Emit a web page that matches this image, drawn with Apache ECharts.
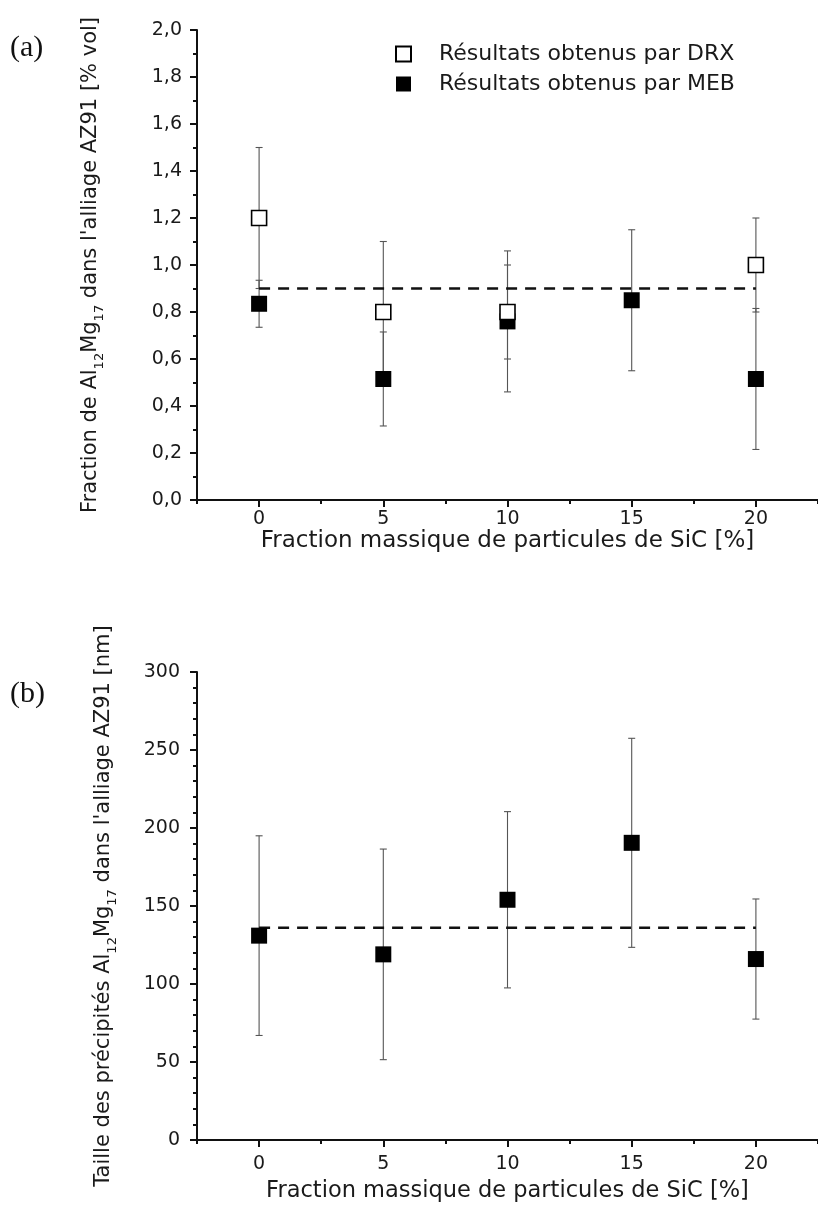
<!DOCTYPE html>
<html><head><meta charset="utf-8">
<script src="https://cdn.jsdelivr.net/npm/echarts@6/dist/echarts.min.js"></script>
<style>html,body{margin:0;padding:0;background:#fff}#c{width:818px;height:1219px}</style>
</head><body><div id="c"></div>
<script>
// ---- data ----
const xValues = [0, 5, 10, 15, 20];
const xMajorTicks = [0, 5, 10, 15, 20];
const drxFraction = [1.2, 0.8, 0.8, null, 1.0];
const drxError = [0.3, 0.3, 0.2, null, 0.2];
const mebFraction = [0.835, 0.515, 0.76, 0.85, 0.515];
const mebError = [0.1, 0.2, 0.3, 0.3, 0.3];
const meanFraction = 0.9;
const precipSize = [131, 119, 154, 190.5, 116];
const precipError = [64, 67.5, 56.5, 67, 38.5];
const meanSize = 136;
const seriesNames = ['Résultats obtenus par DRX', 'Résultats obtenus par MEB'];

// ---- helpers ----
const pts = (vals) => xValues.map((x, i) => [x, vals[i]]).filter(d => d[1] != null);
const errs = (vals, e) => xValues.map((x, i) => vals[i] == null ? null : [x, vals[i] - e[i], vals[i] + e[i]]).filter(d => d);
function errRender(params, api) {
  const x = api.value(0), lo = api.value(1), hi = api.value(2);
  const a = api.coord([x, hi]), b = api.coord([x, lo]);
  const hw = 3.5, st = { stroke: '#555', lineWidth: 1.1 };
  return { type: 'group', children: [
    { type: 'line', shape: { x1: a[0], y1: a[1], x2: b[0], y2: b[1] }, style: st },
    { type: 'line', shape: { x1: a[0] - hw, y1: a[1], x2: a[0] + hw, y2: a[1] }, style: st },
    { type: 'line', shape: { x1: b[0] - hw, y1: b[1], x2: b[0] + hw, y2: b[1] }, style: st }
  ]};
}
const FONT = 'DejaVu Sans';
const TXT = '#1a1a1a';
function mainX(grid, nameGap, labelMargin, nameSize) {
  return {
    gridIndex: grid, type: 'value', position: 'bottom', min: -2.5, max: 22.5, interval: 2.5,
    axisLine: { onZero: false, lineStyle: { color: '#111', width: 2 } },
    axisTick: { customValues: xMajorTicks, length: 7, lineStyle: { color: '#111', width: 2 } },
    axisLabel: { customValues: xMajorTicks, fontFamily: FONT, fontSize: 19, color: TXT, margin: labelMargin },
    splitLine: { show: false },
    name: 'Fraction massique de particules de SiC [%]', nameLocation: 'middle', nameGap: nameGap,
    nameTextStyle: { fontFamily: FONT, fontSize: nameSize, color: TXT }
  };
}
function minorX(grid) {
  return {
    gridIndex: grid, type: 'value', position: 'bottom', min: -2.5, max: 22.5, interval: 2.5,
    axisLine: { show: false, onZero: false }, axisTick: { length: 4, lineStyle: { color: '#111', width: 2 } },
    axisLabel: { show: false }, splitLine: { show: false }
  };
}
const subRich = { s: { fontFamily: FONT, fontSize: 13, color: TXT, verticalAlign: 'bottom', lineHeight: 30 } };

const chart = echarts.init(document.getElementById('c'), null, { renderer: 'canvas' });
chart.setOption({
  backgroundColor: '#fff',
  animation: false,
  grid: [
    { left: 197, top: 30, right: -7, height: 470 },
    { left: 197, top: 672, right: -7, height: 468 }
  ],
  legend: {
    orient: 'vertical', left: 390, top: 38, itemWidth: 15, itemHeight: 15, itemGap: 8,
    data: seriesNames,
    formatter: name => '{g|}' + name,
    textStyle: { fontFamily: FONT, fontSize: 22, color: TXT, rich: { g: { width: 23 } } }
  },
  xAxis: [mainX(0, 23, 10, 23), minorX(0), mainX(1, 40, 15, 22.5), minorX(1)],
  yAxis: [
    {
      gridIndex: 0, type: 'value', min: 0, max: 2, interval: 0.2,
      axisLine: { show: true, onZero: false, lineStyle: { color: '#111', width: 2 } },
      axisTick: { show: true, length: 7, lineStyle: { color: '#111', width: 2 } },
      minorTick: { show: true, splitNumber: 2, length: 4, lineStyle: { color: '#111', width: 2 } },
      axisLabel: { fontFamily: FONT, fontSize: 19, color: TXT, margin: 15, formatter: v => v.toFixed(1).replace('.', ',') },
      splitLine: { show: false },
      name: "Fraction de Al{s|12}Mg{s|17} dans l'alliage AZ91 [% vol]", nameLocation: 'middle', nameGap: 91,
      nameTextStyle: { fontFamily: FONT, fontSize: 21, color: TXT, rich: subRich }
    },
    {
      gridIndex: 1, type: 'value', min: 0, max: 300, interval: 50,
      axisLine: { show: true, onZero: false, lineStyle: { color: '#111', width: 2 } },
      axisTick: { show: true, length: 7, lineStyle: { color: '#111', width: 2 } },
      minorTick: { show: true, splitNumber: 5, length: 4, lineStyle: { color: '#111', width: 2 } },
      axisLabel: { fontFamily: FONT, fontSize: 19, color: TXT, margin: 17 },
      splitLine: { show: false },
      name: "Taille des précipités Al{s|12}Mg{s|17} dans l'alliage AZ91 [nm]", nameLocation: 'middle', nameGap: 78,
      nameTextStyle: { fontFamily: FONT, fontSize: 21, color: TXT, rich: subRich }
    }
  ],
  graphic: [
    { type: 'text', left: 10, top: 33, style: { text: '(a)', font: '30px "Liberation Serif"', fill: '#111' } },
    { type: 'text', left: 10, top: 679, style: { text: '(b)', font: '30px "Liberation Serif"', fill: '#111' } }
  ],
  series: [
    { type: 'custom', name: 'errDRX', xAxisIndex: 0, yAxisIndex: 0, renderItem: errRender,
      encode: { x: 0, y: [1, 2] }, data: errs(drxFraction, drxError), z: 1, silent: true },
    { type: 'custom', name: 'errMEB', xAxisIndex: 0, yAxisIndex: 0, renderItem: errRender,
      encode: { x: 0, y: [1, 2] }, data: errs(mebFraction, mebError), z: 1, silent: true },
    { type: 'line', name: 'meanA', xAxisIndex: 0, yAxisIndex: 0, symbol: 'none', z: 2,
      data: [[xValues[0], meanFraction], [xValues[xValues.length - 1], meanFraction]],
      lineStyle: { color: '#111', width: 2.5, type: [11, 8] } },
    { type: 'scatter', name: seriesNames[1], xAxisIndex: 0, yAxisIndex: 0, symbol: 'rect', symbolSize: 16, z: 3,
      data: pts(mebFraction), itemStyle: { color: '#000', opacity: 1 } },
    { type: 'scatter', name: seriesNames[0], xAxisIndex: 0, yAxisIndex: 0, symbol: 'rect', symbolSize: 15, z: 4,
      data: pts(drxFraction), itemStyle: { color: '#fff', borderColor: '#000', borderWidth: 1.6, opacity: 1 } },

    { type: 'custom', name: 'errSize', xAxisIndex: 2, yAxisIndex: 1, renderItem: errRender,
      encode: { x: 0, y: [1, 2] }, data: errs(precipSize, precipError), z: 1, silent: true },
    { type: 'line', name: 'meanB', xAxisIndex: 2, yAxisIndex: 1, symbol: 'none', z: 2,
      data: [[xValues[0], meanSize], [xValues[xValues.length - 1], meanSize]],
      lineStyle: { color: '#111', width: 2.5, type: [11, 8] } },
    { type: 'scatter', name: 'size', xAxisIndex: 2, yAxisIndex: 1, symbol: 'rect', symbolSize: 16, z: 3,
      data: pts(precipSize), itemStyle: { color: '#000', opacity: 1 } }
  ]
});
</script></body></html>
